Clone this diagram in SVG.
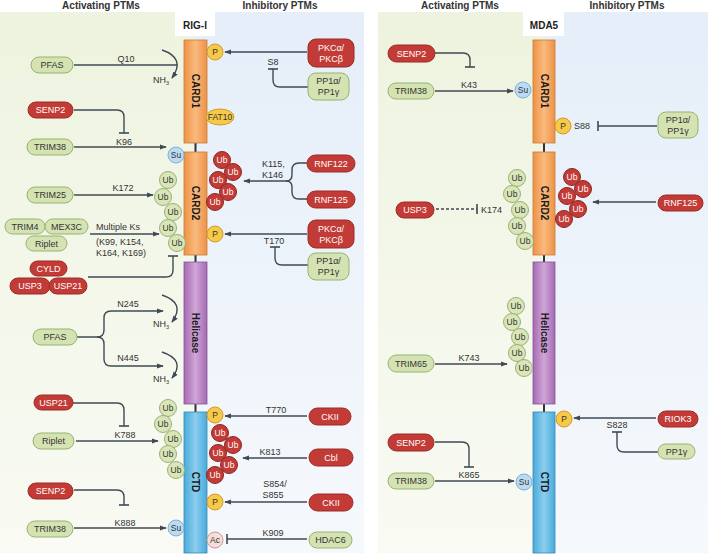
<svg xmlns="http://www.w3.org/2000/svg" width="708" height="557" viewBox="0 0 708 557">
<defs>
<linearGradient id="gBg" x1="0" y1="0" x2="0" y2="1"><stop offset="0" stop-color="#EEF3DF"/><stop offset="1" stop-color="#F9FBF4"/></linearGradient>
<linearGradient id="bBg" x1="0" y1="0" x2="0" y2="1"><stop offset="0" stop-color="#E5EEF9"/><stop offset="1" stop-color="#F6F9FC"/></linearGradient>
<linearGradient id="orange" x1="0" y1="0" x2="1" y2="0"><stop offset="0" stop-color="#EE9245"/><stop offset="0.5" stop-color="#F9BA7E"/><stop offset="1" stop-color="#EE9245"/></linearGradient>
<linearGradient id="purple" x1="0" y1="0" x2="1" y2="0"><stop offset="0" stop-color="#A56AB2"/><stop offset="0.5" stop-color="#D0A6D8"/><stop offset="1" stop-color="#A56AB2"/></linearGradient>
<linearGradient id="blue" x1="0" y1="0" x2="1" y2="0"><stop offset="0" stop-color="#48ABDB"/><stop offset="0.5" stop-color="#8CCDEE"/><stop offset="1" stop-color="#48ABDB"/></linearGradient>
<marker id="arr" viewBox="0 0 8 6" refX="7" refY="3" markerWidth="7" markerHeight="6" markerUnits="userSpaceOnUse" orient="auto"><path d="M0,0 L8,3 L0,6 z" fill="#3F4A55"/></marker>
<marker id="tee" viewBox="-1 -5 2 10" refX="0" refY="0" markerWidth="2" markerHeight="10" markerUnits="userSpaceOnUse" orient="auto"><path d="M0,-5 V5" stroke="#3F4A55" stroke-width="1.6"/></marker>
<style>
text{font-family:"Liberation Sans",Arial,sans-serif;}
.hdr{font-size:10px;font-weight:bold;fill:#333;text-anchor:middle;}
.ttl{font-size:10px;font-weight:bold;fill:#222;text-anchor:middle;}
.dom{font-size:10px;font-weight:bold;fill:#1a1a1a;text-anchor:middle;}
.gp{fill:#D5E3B2;stroke:#97B273;stroke-width:1;}
.rp{fill:#C23B36;stroke:#9E2B27;stroke-width:1;}
.gt{font-size:9px;fill:#333;text-anchor:middle;}
.wt{font-size:9px;fill:#fff;text-anchor:middle;}
.lbl{font-size:9px;fill:#333;text-anchor:middle;}
.lbs{font-size:9px;fill:#333;}
.ubg{fill:#D9E6B8;stroke:#97B273;stroke-width:1;}
.ubr{fill:#C23B36;stroke:#8E2623;stroke-width:1;}
.ut{font-size:8.5px;fill:#333;text-anchor:middle;}
.uw{font-size:8.5px;fill:#fff;text-anchor:middle;}
.pc{fill:#F7C948;stroke:#D19A2C;stroke-width:1;}
.su{fill:#BCDBF2;stroke:#7FB0D8;stroke-width:1;}
.ac{fill:#F7DDD9;stroke:#C99A96;stroke-width:1;}
.ln{fill:none;stroke:#3F4A55;stroke-width:1.4;}
.a{marker-end:url(#arr);}
.t{marker-end:url(#tee);}
</style>
</defs>

<g id="backgrounds">
<rect x="0" y="12" width="195" height="541" fill="url(#gBg)"/>
<rect x="195" y="12" width="169" height="541" fill="url(#bBg)"/>
<rect x="378" y="12" width="168" height="541" fill="url(#gBg)"/>
<rect x="546" y="12" width="162" height="541" fill="url(#bBg)"/>
<text class="hdr" x="101" y="9">Activating PTMs</text>
<text class="hdr" x="280" y="9">Inhibitory PTMs</text>
<text class="hdr" x="460" y="9">Activating PTMs</text>
<text class="hdr" x="627" y="9">Inhibitory PTMs</text>
</g>

<g id="rigi-protein">
<rect x="175" y="12" width="40" height="24" fill="#fff"/>
<text class="ttl" x="195" y="29">RIG-I</text>
<line x1="195.5" y1="40" x2="195.5" y2="553" stroke="#333" stroke-width="2"/>
<rect x="184" y="40" width="23" height="103" fill="url(#orange)" stroke="#C77A3A" stroke-width="0.8"/>
<rect x="184" y="152" width="23" height="103" fill="url(#orange)" stroke="#C77A3A" stroke-width="0.8"/>
<rect x="184" y="262" width="23" height="142" fill="url(#purple)" stroke="#85559A" stroke-width="0.8"/>
<rect x="184" y="412" width="23" height="141" fill="url(#blue)" stroke="#3A88B2" stroke-width="0.8"/>
<text class="dom" transform="translate(192,91) rotate(90)" x="0" y="0">CARD1</text>
<text class="dom" transform="translate(192,203) rotate(90)" x="0" y="0">CARD2</text>
<text class="dom" transform="translate(192,333) rotate(90)" x="0" y="0">Helicase</text>
<text class="dom" transform="translate(192,482) rotate(90)" x="0" y="0">CTD</text>
</g>

<g id="mda5-protein">
<rect x="523" y="12" width="41" height="24" fill="#fff"/>
<text class="ttl" x="544" y="29">MDA5</text>
<line x1="544" y1="40" x2="544" y2="553" stroke="#333" stroke-width="2"/>
<rect x="533" y="40" width="22" height="103" fill="url(#orange)" stroke="#C77A3A" stroke-width="0.8"/>
<rect x="533" y="152" width="22" height="103" fill="url(#orange)" stroke="#C77A3A" stroke-width="0.8"/>
<rect x="533" y="262" width="22" height="142" fill="url(#purple)" stroke="#85559A" stroke-width="0.8"/>
<rect x="533" y="412" width="22" height="141" fill="url(#blue)" stroke="#3A88B2" stroke-width="0.8"/>
<text class="dom" transform="translate(540.5,91) rotate(90)" x="0" y="0">CARD1</text>
<text class="dom" transform="translate(540.5,203) rotate(90)" x="0" y="0">CARD2</text>
<text class="dom" transform="translate(540.5,333) rotate(90)" x="0" y="0">Helicase</text>
<text class="dom" transform="translate(540.5,482) rotate(90)" x="0" y="0">CTD</text>
</g>

<g id="connectors">
<path class="ln" d="M74,65 H177"/>
<path class="ln a" d="M162,50 Q186,58 172,78"/>
<path class="ln a" d="M307,52 H225"/>
<path class="ln t" d="M308,87 H280 Q273,87 273,80 V69"/>
<path class="ln t" d="M74,110 H117 Q124,110 124,117 V133"/>
<path class="ln a" d="M74,147 H166"/>
<path class="ln" d="M307,163 H299 Q292,163 292,170 V175 Q292,181 286,181"/>
<path class="ln" d="M307,199 H299 Q292,199 292,192 V187 Q292,181 286,181"/>
<path class="ln a" d="M286,181 H244"/>
<path class="ln a" d="M74,195 H153"/>
<path class="ln a" d="M90,234 H159"/>
<path class="ln t" d="M88,277 H166 Q173,277 173,270 V256"/>
<path class="ln a" d="M307,234 H225"/>
<path class="ln t" d="M308,265 H282 Q275,265 275,258 V247"/>
<path class="ln" d="M77,337 H97 Q104,337 104,330 V318 Q104,311 111,311"/>
<path class="ln a" d="M111,311 H163"/>
<path class="ln" d="M97,337 Q104,337 104,344 V359 Q104,366 111,366"/>
<path class="ln a" d="M111,366 H163"/>
<path class="ln a" d="M162,295 Q186,303 172,322"/>
<path class="ln a" d="M162,352 Q186,360 172,378"/>
<path class="ln t" d="M73,403 H117 Q124,403 124,410 V426"/>
<path class="ln a" d="M76,441 H158"/>
<path class="ln a" d="M307,416 H225"/>
<path class="ln a" d="M307,458 H243"/>
<path class="ln a" d="M307,502 H225"/>
<path class="ln t" d="M307,539 H227"/>
<path class="ln t" d="M74,490 H117 Q124,490 124,497 V505"/>
<path class="ln a" d="M74,528 H166"/>

<path class="ln t" d="M435,53 H463 Q470,53 470,60 V67"/>
<path class="ln a" d="M435,91 H513"/>
<path class="ln t" d="M657,126 H598"/>
<path class="ln a" d="M656,202 H593"/>
<path class="ln t" d="M436,209 H477" stroke-dasharray="3,2"/>
<path class="ln a" d="M435,364 H507"/>
<path class="ln a" d="M656,418 H574"/>
<path class="ln t" d="M658,452 H624 Q617,452 617,445 V432"/>
<path class="ln t" d="M435,442 H462 Q469,442 469,449 V467"/>
<path class="ln a" d="M435,481 H514"/>
</g>

<g id="connector-labels">
<text class="lbl" x="126" y="62">Q10</text>
<text class="lbs" x="153" y="83">NH<tspan font-size="5.5" dy="2">3</tspan></text>
<text class="lbl" x="273" y="65">S8</text>
<text class="lbl" x="124" y="145">K96</text>
<text class="lbs" x="262" y="167">K115,</text>
<text class="lbs" x="262" y="178">K146</text>
<text class="lbl" x="123" y="191">K172</text>
<text class="lbs" x="96" y="230">Multiple Ks</text>
<text class="lbs" x="96" y="245">(K99, K154,</text>
<text class="lbs" x="96" y="256">K164, K169)</text>
<text class="lbl" x="274" y="244">T170</text>
<text class="lbl" x="128" y="307">N245</text>
<text class="lbs" x="153" y="327">NH<tspan font-size="5.5" dy="2">3</tspan></text>
<text class="lbl" x="128" y="361">N445</text>
<text class="lbs" x="153" y="382">NH<tspan font-size="5.5" dy="2">3</tspan></text>
<text class="lbl" x="125" y="438">K788</text>
<text class="lbl" x="276" y="413">T770</text>
<text class="lbl" x="270" y="455">K813</text>
<text class="lbl" x="275" y="487">S854/</text>
<text class="lbl" x="273" y="498">S855</text>
<text class="lbl" x="125" y="526">K888</text>
<text class="lbl" x="273" y="536">K909</text>
<text class="lbl" x="469" y="88">K43</text>
<text class="lbs" x="574" y="129">S88</text>
<text class="lbs" x="481" y="213">K174</text>
<text class="lbl" x="469" y="361">K743</text>
<text class="lbl" x="617" y="428">S828</text>
<text class="lbl" x="469" y="478">K865</text>
</g>

<g id="rigi-modifications">
<circle class="pc" cx="215" cy="52" r="8"/><text class="ut" x="215" y="55">P</text>
<ellipse cx="220" cy="117" rx="14" ry="8" fill="#F7C948" stroke="#D19A2C"/><text class="ut" x="220" y="120">FAT10</text>
<circle class="su" cx="176" cy="155" r="8"/><text class="ut" x="176" y="158">Su</text>
<circle class="ubg" cx="168" cy="180" r="8.5"/><text class="ut" x="168" y="183">Ub</text>
<circle class="ubg" cx="163" cy="197" r="8.5"/><text class="ut" x="163" y="200">Ub</text>
<circle class="ubg" cx="173" cy="212" r="8.5"/><text class="ut" x="173" y="215">Ub</text>
<circle class="ubg" cx="168" cy="228" r="8.5"/><text class="ut" x="168" y="231">Ub</text>
<circle class="ubg" cx="177" cy="243" r="8.5"/><text class="ut" x="177" y="246">Ub</text>
<circle class="ubr" cx="222" cy="160" r="8.5"/><text class="uw" x="222" y="163">Ub</text>
<circle class="ubr" cx="233" cy="172" r="8.5"/><text class="uw" x="233" y="175">Ub</text>
<circle class="ubr" cx="218" cy="180" r="8.5"/><text class="uw" x="218" y="183">Ub</text>
<circle class="ubr" cx="228" cy="192" r="8.5"/><text class="uw" x="228" y="195">Ub</text>
<circle class="ubr" cx="215" cy="202" r="8.5"/><text class="uw" x="215" y="205">Ub</text>
<circle class="pc" cx="215" cy="234" r="8"/><text class="ut" x="215" y="237">P</text>
<circle class="ubg" cx="168" cy="408" r="8.5"/><text class="ut" x="168" y="411">Ub</text>
<circle class="ubg" cx="163" cy="424" r="8.5"/><text class="ut" x="163" y="427">Ub</text>
<circle class="ubg" cx="173" cy="439" r="8.5"/><text class="ut" x="173" y="442">Ub</text>
<circle class="ubg" cx="168" cy="454" r="8.5"/><text class="ut" x="168" y="457">Ub</text>
<circle class="ubg" cx="176" cy="470" r="8.5"/><text class="ut" x="176" y="473">Ub</text>
<circle class="pc" cx="215" cy="415" r="8"/><text class="ut" x="215" y="418">P</text>
<circle class="ubr" cx="220" cy="433" r="8.5"/><text class="uw" x="220" y="436">Ub</text>
<circle class="ubr" cx="233" cy="445" r="8.5"/><text class="uw" x="233" y="448">Ub</text>
<circle class="ubr" cx="218" cy="453" r="8.5"/><text class="uw" x="218" y="456">Ub</text>
<circle class="ubr" cx="229" cy="465" r="8.5"/><text class="uw" x="229" y="468">Ub</text>
<circle class="ubr" cx="215" cy="475" r="8.5"/><text class="uw" x="215" y="478">Ub</text>
<circle class="pc" cx="215" cy="502" r="8"/><text class="ut" x="215" y="505">P</text>
<circle class="su" cx="176" cy="528" r="8"/><text class="ut" x="176" y="531">Su</text>
<circle class="ac" cx="215" cy="540" r="8"/><text class="ut" x="215" y="543">Ac</text>
</g>

<g id="mda5-modifications">
<circle class="su" cx="523" cy="90" r="8"/><text class="ut" x="523" y="93">Su</text>
<circle class="pc" cx="563" cy="126" r="8"/><text class="ut" x="563" y="129">P</text>
<circle class="ubg" cx="517" cy="178" r="8.5"/><text class="ut" x="517" y="181">Ub</text>
<circle class="ubg" cx="512" cy="194" r="8.5"/><text class="ut" x="512" y="197">Ub</text>
<circle class="ubg" cx="520" cy="210" r="8.5"/><text class="ut" x="520" y="213">Ub</text>
<circle class="ubg" cx="517" cy="226" r="8.5"/><text class="ut" x="517" y="229">Ub</text>
<circle class="ubg" cx="525" cy="241" r="8.5"/><text class="ut" x="525" y="244">Ub</text>
<circle class="ubr" cx="572" cy="177" r="8.5"/><text class="uw" x="572" y="180">Ub</text>
<circle class="ubr" cx="583" cy="189" r="8.5"/><text class="uw" x="583" y="192">Ub</text>
<circle class="ubr" cx="567" cy="196" r="8.5"/><text class="uw" x="567" y="199">Ub</text>
<circle class="ubr" cx="578" cy="209" r="8.5"/><text class="uw" x="578" y="212">Ub</text>
<circle class="ubr" cx="564" cy="219" r="8.5"/><text class="uw" x="564" y="222">Ub</text>
<circle class="ubg" cx="516" cy="306" r="8.5"/><text class="ut" x="516" y="309">Ub</text>
<circle class="ubg" cx="512" cy="322" r="8.5"/><text class="ut" x="512" y="325">Ub</text>
<circle class="ubg" cx="520" cy="337" r="8.5"/><text class="ut" x="520" y="340">Ub</text>
<circle class="ubg" cx="517" cy="353" r="8.5"/><text class="ut" x="517" y="356">Ub</text>
<circle class="ubg" cx="524" cy="368" r="8.5"/><text class="ut" x="524" y="371">Ub</text>
<circle class="pc" cx="564" cy="419" r="8"/><text class="ut" x="564" y="422">P</text>
<circle class="su" cx="524" cy="482" r="8"/><text class="ut" x="524" y="485">Su</text>
</g>

<g id="node-pfas-q10"><rect class="gp" x="31" y="57" width="42" height="16" rx="8"/><text class="gt" x="52" y="68">PFAS</text></g>
<g id="node-pkc-card1"><rect class="rp" x="308" y="39" width="46" height="28" rx="8"/><text class="wt" x="331" y="51">PKCα/</text><text class="wt" x="331" y="62">PKCβ</text></g>
<g id="node-pp1-card1"><rect class="gp" x="308" y="73" width="41" height="27" rx="8"/><text class="gt" x="328.5" y="84">PP1α/</text><text class="gt" x="328.5" y="95">PP1γ</text></g>
<g id="node-senp2-card1"><rect class="rp" x="28" y="102" width="45" height="16" rx="8"/><text class="wt" x="50.5" y="113">SENP2</text></g>
<g id="node-trim38-card1"><rect class="gp" x="27" y="139" width="46" height="16" rx="8"/><text class="gt" x="50" y="150">TRIM38</text></g>
<g id="node-rnf122"><rect class="rp" x="307" y="155" width="48" height="17" rx="8.5"/><text class="wt" x="331" y="166.5">RNF122</text></g>
<g id="node-rnf125"><rect class="rp" x="307" y="191" width="48" height="17" rx="8.5"/><text class="wt" x="331" y="202.5">RNF125</text></g>
<g id="node-trim25"><rect class="gp" x="27" y="187" width="46" height="16" rx="8"/><text class="gt" x="50" y="198">TRIM25</text></g>
<g id="node-trim4"><rect class="gp" x="5" y="219" width="40" height="15" rx="7.5"/><text class="gt" x="25" y="229.5">TRIM4</text></g>
<g id="node-mex3c"><rect class="gp" x="45" y="219" width="43" height="15" rx="7.5"/><text class="gt" x="66.5" y="229.5">MEX3C</text></g>
<g id="node-riplet-card2"><rect class="gp" x="26" y="236" width="41" height="15" rx="7.5"/><text class="gt" x="46.5" y="246.5">Riplet</text></g>
<g id="node-cyld"><rect class="rp" x="30" y="261" width="37" height="15" rx="7.5"/><text class="wt" x="48.5" y="271.5">CYLD</text></g>
<g id="node-usp3-rigi"><rect class="rp" x="10" y="278" width="40" height="16" rx="8"/><text class="wt" x="30" y="289">USP3</text></g>
<g id="node-usp21-card2"><rect class="rp" x="49" y="278" width="38" height="16" rx="8"/><text class="wt" x="68" y="289">USP21</text></g>
<g id="node-pkc-card2"><rect class="rp" x="308" y="220" width="46" height="28" rx="8"/><text class="wt" x="331" y="232">PKCα/</text><text class="wt" x="331" y="243">PKCβ</text></g>
<g id="node-pp1-card2"><rect class="gp" x="308" y="253" width="41" height="27" rx="8"/><text class="gt" x="328.5" y="264">PP1α/</text><text class="gt" x="328.5" y="275">PP1γ</text></g>
<g id="node-pfas-helicase"><rect class="gp" x="33" y="329" width="44" height="16" rx="8"/><text class="gt" x="55" y="340">PFAS</text></g>
<g id="node-usp21-ctd"><rect class="rp" x="34" y="395" width="39" height="15" rx="7.5"/><text class="wt" x="53.5" y="405.5">USP21</text></g>
<g id="node-riplet-ctd"><rect class="gp" x="33" y="433" width="41" height="16" rx="8"/><text class="gt" x="53.5" y="444">Riplet</text></g>
<g id="node-ckii-t770"><rect class="rp" x="309" y="408" width="42" height="17" rx="8.5"/><text class="wt" x="330" y="419.5">CKII</text></g>
<g id="node-cbl"><rect class="rp" x="309" y="449" width="44" height="17" rx="8.5"/><text class="wt" x="331" y="460.5">Cbl</text></g>
<g id="node-ckii-s854"><rect class="rp" x="309" y="494" width="44" height="17" rx="8.5"/><text class="wt" x="331" y="505.5">CKII</text></g>
<g id="node-hdac6"><rect class="gp" x="309" y="532" width="43" height="16" rx="8"/><text class="gt" x="330.5" y="543">HDAC6</text></g>
<g id="node-senp2-ctd"><rect class="rp" x="28" y="483" width="45" height="16" rx="8"/><text class="wt" x="50.5" y="494">SENP2</text></g>
<g id="node-trim38-ctd"><rect class="gp" x="27" y="521" width="46" height="16" rx="8"/><text class="gt" x="50" y="532">TRIM38</text></g>

<g id="node-mda5-senp2-card1"><rect class="rp" x="388" y="45" width="47" height="17" rx="8.5"/><text class="wt" x="411.5" y="56.5">SENP2</text></g>
<g id="node-mda5-trim38-card1"><rect class="gp" x="388" y="83" width="46" height="16" rx="8"/><text class="gt" x="411" y="94">TRIM38</text></g>
<g id="node-mda5-pp1"><rect class="gp" x="658" y="112" width="40" height="26" rx="8"/><text class="gt" x="678" y="123">PP1α/</text><text class="gt" x="678" y="134">PP1γ</text></g>
<g id="node-mda5-usp3"><rect class="rp" x="396" y="202" width="38" height="16" rx="8"/><text class="wt" x="415" y="213">USP3</text></g>
<g id="node-mda5-rnf125"><rect class="rp" x="658" y="195" width="45" height="16" rx="8"/><text class="wt" x="680.5" y="206">RNF125</text></g>
<g id="node-mda5-trim65"><rect class="gp" x="388" y="355" width="46" height="17" rx="8.5"/><text class="gt" x="411" y="366.5">TRIM65</text></g>
<g id="node-mda5-riok3"><rect class="rp" x="658" y="411" width="40" height="16" rx="8"/><text class="wt" x="678" y="422">RIOK3</text></g>
<g id="node-mda5-pp1g"><rect class="gp" x="658" y="444" width="37" height="15" rx="7.5"/><text class="gt" x="676.5" y="454.5">PP1γ</text></g>
<g id="node-mda5-senp2-ctd"><rect class="rp" x="388" y="434" width="46" height="17" rx="8.5"/><text class="wt" x="411" y="445.5">SENP2</text></g>
<g id="node-mda5-trim38-ctd"><rect class="gp" x="388" y="473" width="46" height="16" rx="8"/><text class="gt" x="411" y="484">TRIM38</text></g>
</svg>
